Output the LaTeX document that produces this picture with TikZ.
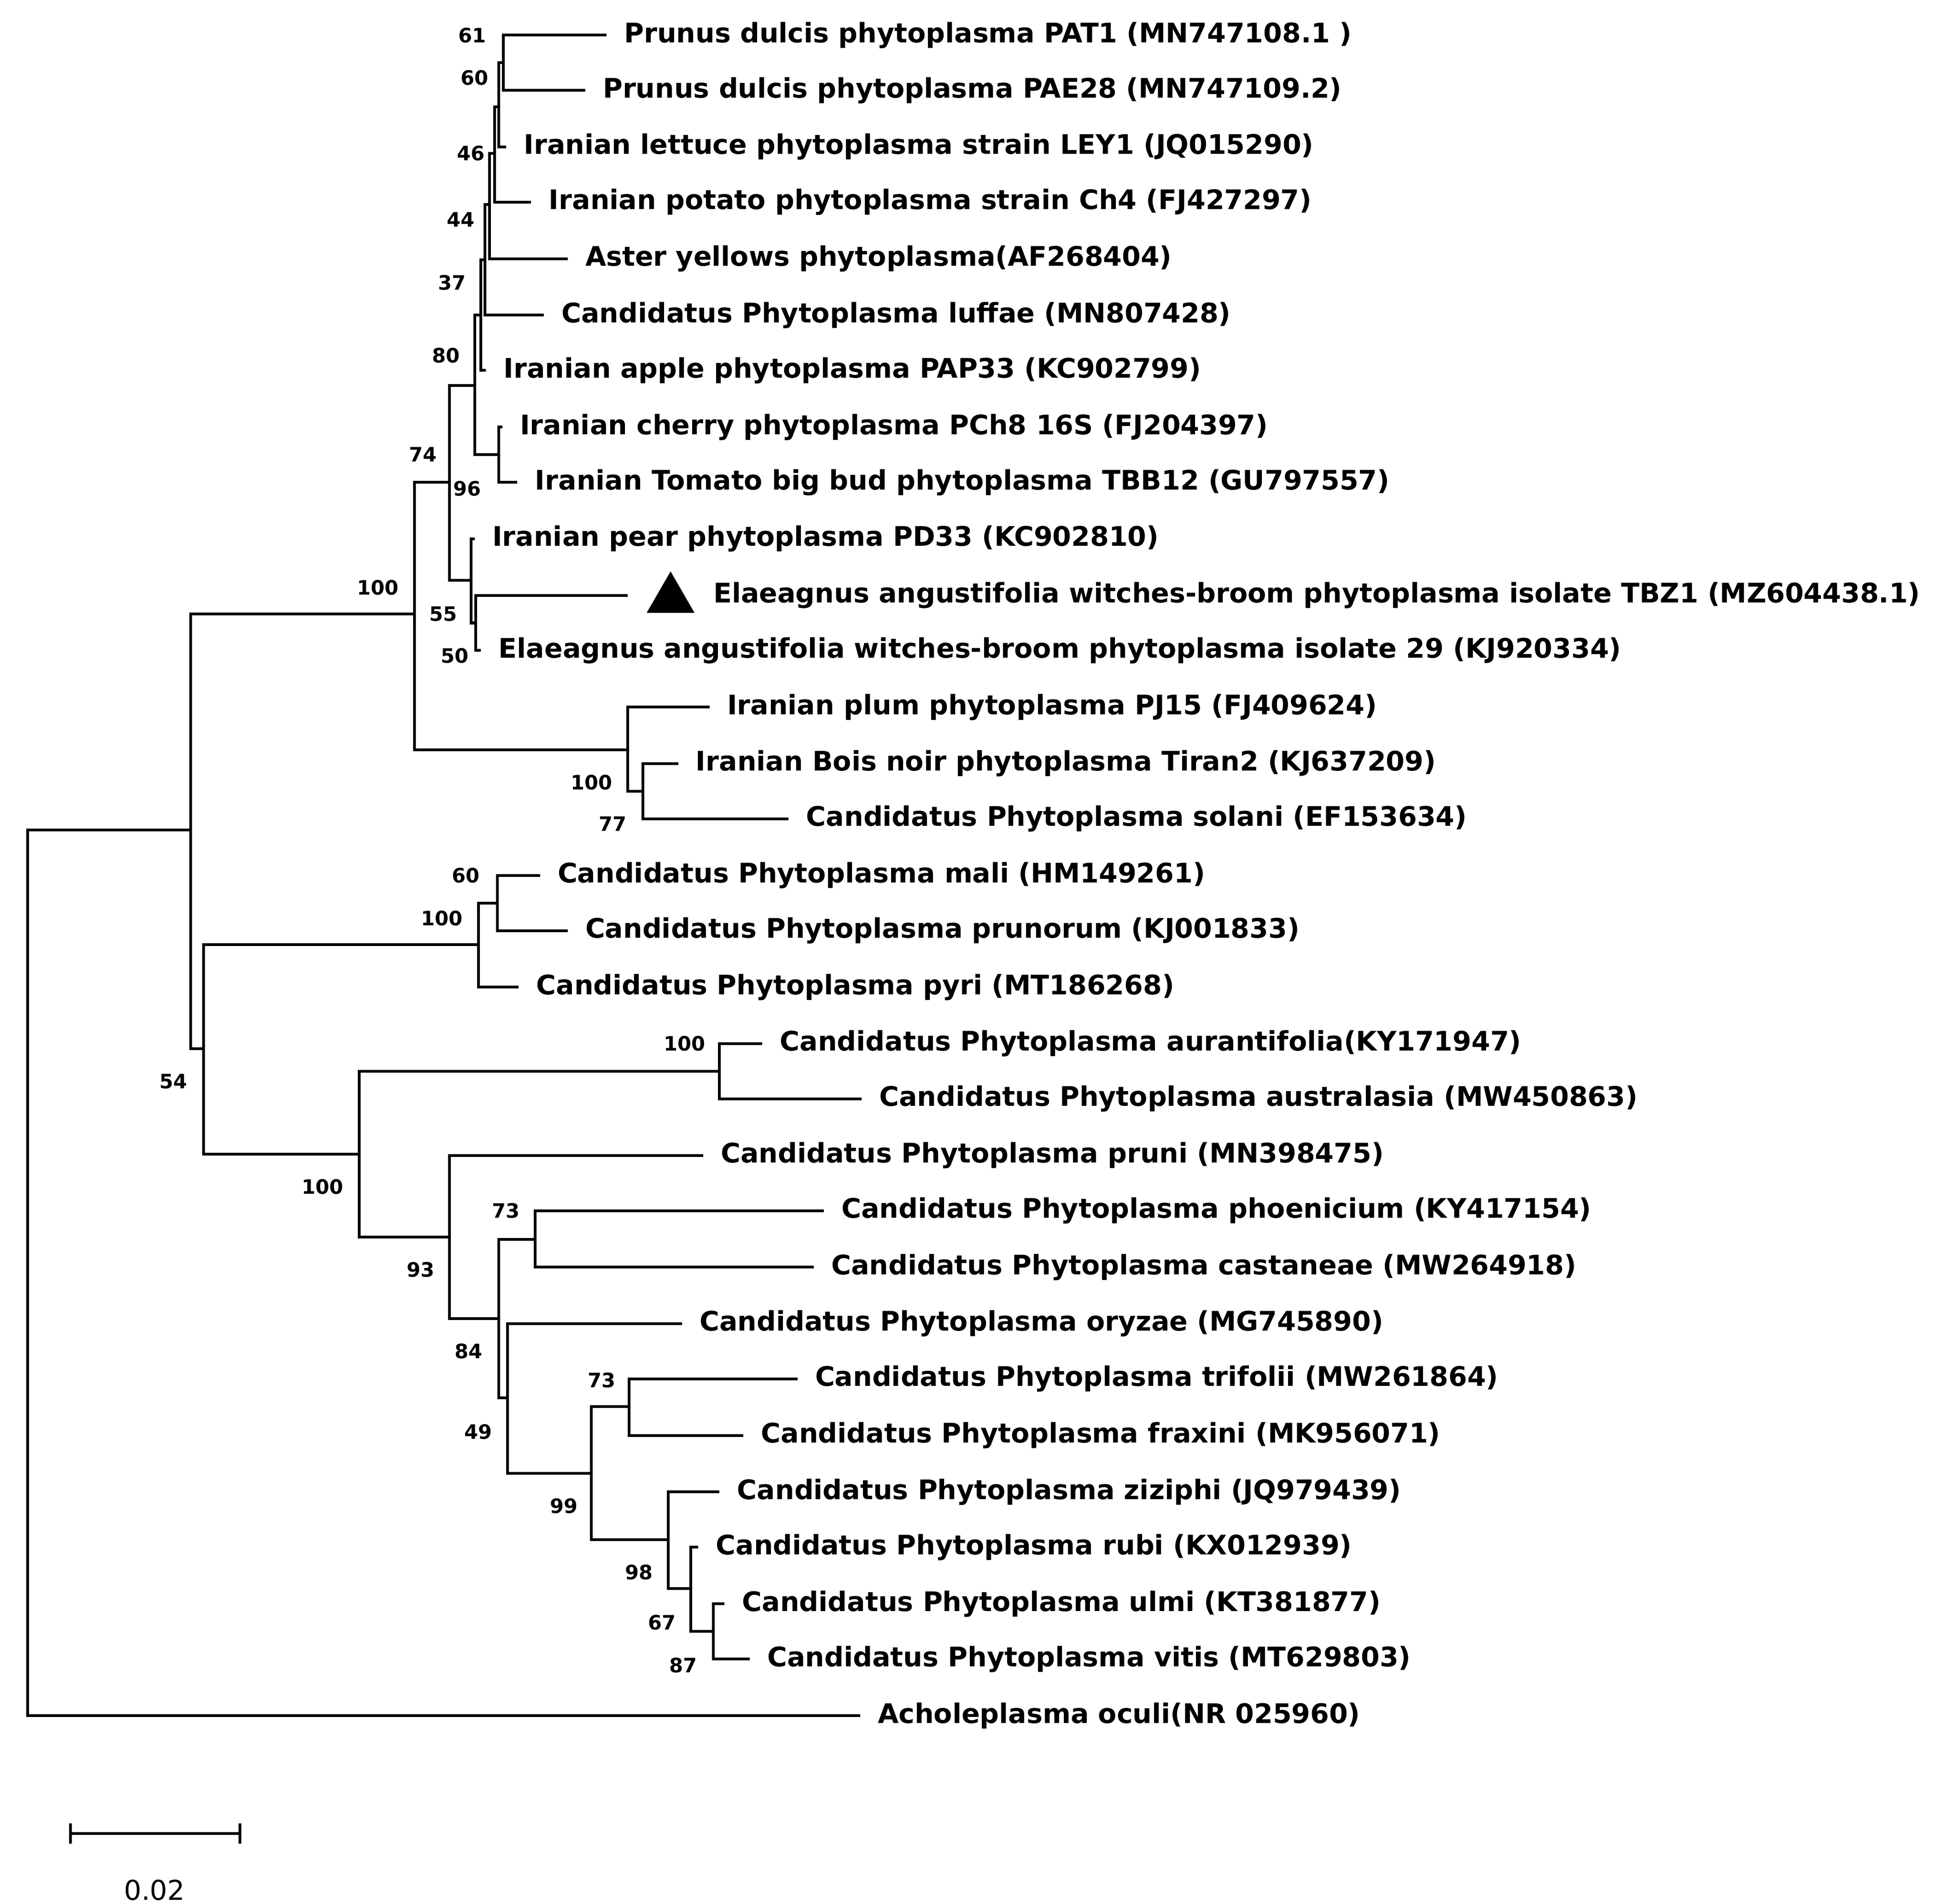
\documentclass[tikz,border=0pt]{standalone}
\usepackage{fontspec}
\usetikzlibrary{shapes.geometric}
\setmainfont{DejaVu Sans}
\begin{document}
\begin{tikzpicture}[x=0.01cm,y=-0.01cm,line width=0.022cm,
 leaf/.style={anchor=west,font=\bfseries\fontsize{6.1}{7}\selectfont,inner sep=0pt,xshift=0.13cm},
 bs/.style={font=\bfseries\fontsize{4.5}{5}\selectfont,inner sep=0pt}]
\useasboundingbox (0,0) rectangle (1556,1516);
% internal nodes
\foreach \n/\x/\y in {P/401/50,Q/397/85,J/394/122,I/390/163,G/386/207,Ep/383/251,E/378/307,H/397/362,
 C/358/384,F/375/462,L/379/496,B/330/489,D/500/597,M/512/630,A/152/661,Root/22/1014,N/162/835,
 O/381/752,Om/396/719,R/286/919,S/573/853,T/358/985,U/397/1050,V/426/987,W/404/1113,X/471/1173,
 Y/501/1120,Z/532/1226,Z2/550/1265,AA/568/1299}
 \coordinate (\n) at (\x,\y);
% leaves: name/x/y/text
\foreach \n/\x/\y/\t in {l1/483/28/{Prunus dulcis phytoplasma PAT1 (MN747108.1 )},
 l2/466/72/{Prunus dulcis phytoplasma PAE28 (MN747109.2)},
 l3/403/117/{Iranian lettuce phytoplasma strain LEY1 (JQ015290)},
 l4/423/161/{Iranian potato phytoplasma strain Ch4 (FJ427297)},
 l5/452/206/{Aster yellows phytoplasma(AF268404)},
 l6/433/251/{Candidatus Phytoplasma luffae (MN807428)},
 l7/387/295/{Iranian apple phytoplasma PAP33 (KC902799)},
 l8/400/340/{Iranian cherry phytoplasma PCh8 16S (FJ204397)},
 l9/412/384/{Iranian Tomato big bud phytoplasma TBB12 (GU797557)},
 l10/378/429/{Iranian pear phytoplasma PD33 (KC902810)},
 l12/383/518/{Elaeagnus angustifolia witches-broom phytoplasma isolate 29 (KJ920334)},
 l13/565/563/{Iranian plum phytoplasma PJ15 (FJ409624)},
 l14/540/608/{Iranian Bois noir phytoplasma Tiran2 (KJ637209)},
 l15/628/652/{Candidatus Phytoplasma solani (EF153634)},
 l16/430/697/{Candidatus Phytoplasma mali (HM149261)},
 l17/452/741/{Candidatus Phytoplasma prunorum (KJ001833)},
 l18/413/786/{Candidatus Phytoplasma pyri (MT186268)},
 l19/607/831/{Candidatus Phytoplasma aurantifolia(KY171947)},
 l20/686/875/{Candidatus Phytoplasma australasia (MW450863)},
 l21/560/920/{Candidatus Phytoplasma pruni (MN398475)},
 l22/656/964/{Candidatus Phytoplasma phoenicium (KY417154)},
 l23/648/1009/{Candidatus Phytoplasma castaneae (MW264918)},
 l24/543/1054/{Candidatus Phytoplasma oryzae (MG745890)},
 l25/635/1098/{Candidatus Phytoplasma trifolii (MW261864)},
 l26/592/1143/{Candidatus Phytoplasma fraxini (MK956071)},
 l27/573/1188/{Candidatus Phytoplasma ziziphi (JQ979439)},
 l28/556/1232/{Candidatus Phytoplasma rubi (KX012939)},
 l29/577/1277/{Candidatus Phytoplasma ulmi (KT381877)},
 l30/597/1321/{Candidatus Phytoplasma vitis (MT629803)},
 l31/685/1366/{Acholeplasma oculi(NR 025960)}}
 {\coordinate (\n) at (\x,\y); \node[leaf] (\n t) at (\n) {\t};}
\coordinate (l11) at (500,474);
\node[leaf,xshift=0.54cm] (l11t) at (l11) {Elaeagnus angustifolia witches-broom phytoplasma isolate TBZ1 (MZ604438.1)};
\node[fill,isosceles triangle,isosceles triangle apex angle=60,shape border rotate=90,minimum height=0.33cm,inner sep=0pt] (tri) at (534,477) {};
% edges parent/child list
\foreach \p/\c in {P/l1,P/l2,Q/P,Q/l3,J/Q,J/l4,I/J,I/l5,G/I,G/l6,Ep/G,Ep/l7,E/Ep,E/H,H/l8,H/l9,
 C/E,C/F,F/l10,F/L,L/l11,L/l12,B/C,B/D,D/l13,D/M,M/l14,M/l15,A/B,A/N,Root/A,Root/l31,
 N/O,N/R,O/Om,O/l18,Om/l16,Om/l17,R/S,R/T,S/l19,S/l20,T/l21,T/U,U/V,U/W,V/l22,V/l23,
 W/l24,W/X,X/Y,X/Z,Y/l25,Y/l26,Z/l27,Z/Z2,Z2/l28,Z2/AA,AA/l29,AA/l30}
 \draw (\p) -- (\p|-\c) -- (\c);
% bootstrap labels
\foreach \x/\y/\t in {376/28/61,378/62/60,375/122/46,367/175/44,360/225/37,355/283/80,337/362/74,
 372/389/96,353/489/55,362/522/50,301/468/100,471/623/100,488/656/77,371/697/60,352/731/100,
 138/861/54,545/831/100,257/945/100,335/1011/93,403/964/73,373/1076/84,381/1140/49,479/1099/73,
 449/1199/99,509/1252/98,527/1292/67,544/1326/87}
 \node[bs] at (\x,\y) {\t};
% scale bar
\coordinate (s1) at (56,1460); \coordinate (s2) at (191,1460);
\draw (s1) -- (s2); \draw (56,1452) -- (56,1468); \draw (191,1452) -- (191,1468);
\node[inner sep=0pt,font=\fontsize{6.2}{7}\selectfont] (sl) at (123,1505) {0.02};
\end{tikzpicture}
\end{document}
